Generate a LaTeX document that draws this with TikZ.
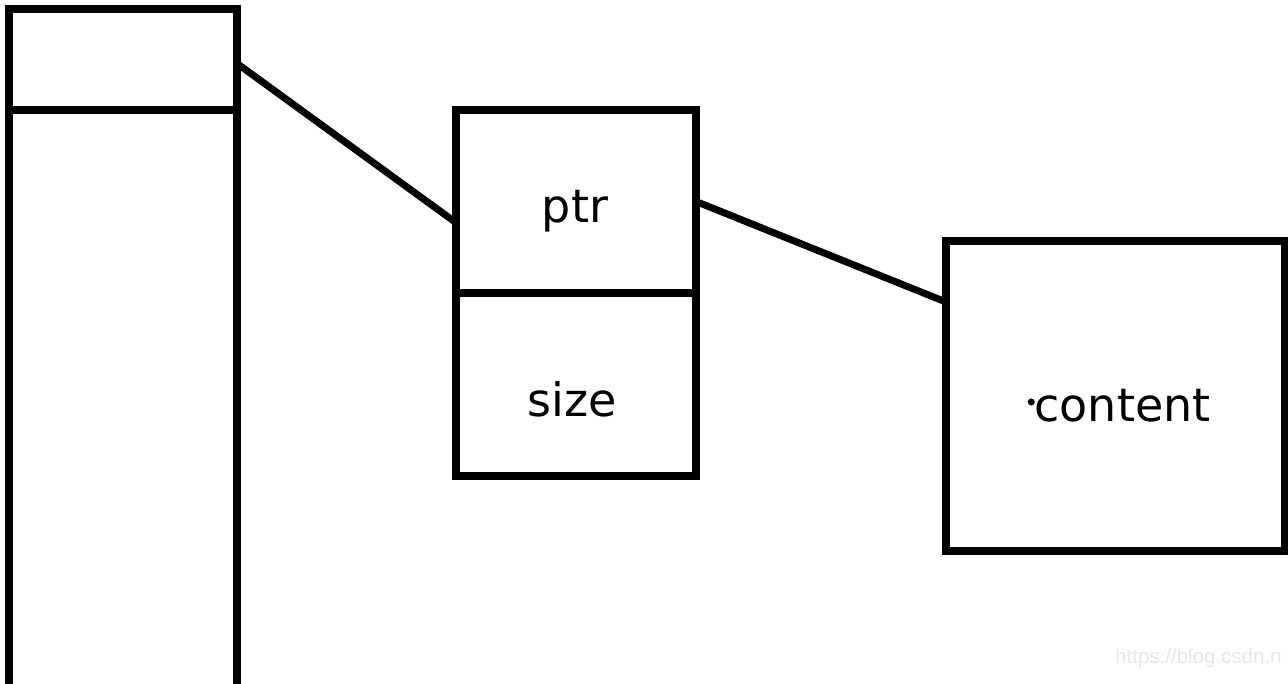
\documentclass[tikz,border=0pt]{standalone}
\usepackage{fontspec}
\setmainfont{DejaVu Sans}
\newfontfamily\wmfont{Liberation Sans}
\usetikzlibrary{calc,positioning}

\begin{document}
\begin{tikzpicture}[x=1pt,y=-1pt,
    cell/.style={draw,line width=8pt,inner sep=0pt,outer sep=0pt,minimum width=#1},
    link/.style={line width=7pt},
    lbl/.style={anchor=base,inner sep=0pt,font=\fontsize{46}{50}\selectfont}]
    \useasboundingbox (0,0) rectangle (1288,684);
    % stack on the left
    \node[cell=228pt,minimum height=101pt] (top) at (123,59.5) {};
    \node[cell=228pt,minimum height=610pt,below=0pt of top] (stack) {};
    % object with ptr and size
    \node[cell=240pt,minimum height=183pt] (ptr) at (576,201.5) {};
    \node[cell=240pt,minimum height=183pt,below=0pt of ptr] (size) {};
    \node[lbl] (ptrtext) at ($(ptr.center)+(-1,21.5)$) {ptr};
    \node[lbl] (sizetext) at ($(size.center)+(-4,32.5)$) {size};
    % content block
    \node[cell=339pt,minimum height=310pt] (content) at (1115.5,396) {};
    \node[lbl] (contenttext) at ($(content.center)+(7,26)$) {content};
    \fill ($(contenttext.base west)+(-3,-20)$) circle (3.5);
    % links
    \draw[link] (top.-2) -- (ptr.190);
    \draw[link] (ptr.east) -- (content.151);
    % watermark
    \node[anchor=base west,inner sep=0pt,text=black!9,font=\wmfont\fontsize{20.5}{22}\selectfont] (mark) at (1115,663) {https://blog.csdn.n};
\end{tikzpicture}
\end{document}
